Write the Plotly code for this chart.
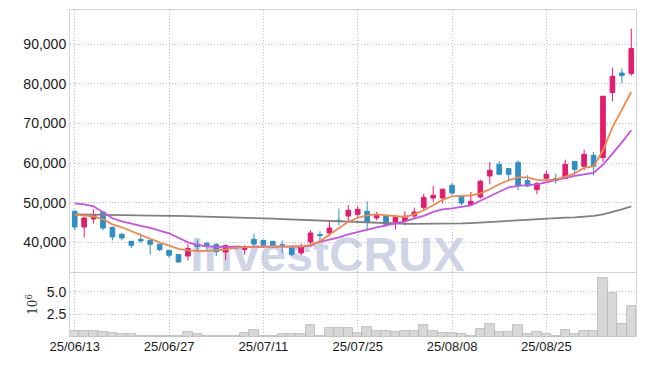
import plotly.graph_objects as go
from plotly.subplots import make_subplots

dates = [
    "2025-06-13", "2025-06-16", "2025-06-17", "2025-06-18", "2025-06-19", "2025-06-20",
    "2025-06-23", "2025-06-24", "2025-06-25", "2025-06-26", "2025-06-27",
    "2025-06-30", "2025-07-01", "2025-07-02", "2025-07-03", "2025-07-04",
    "2025-07-07", "2025-07-08", "2025-07-09", "2025-07-10", "2025-07-11",
    "2025-07-14", "2025-07-15", "2025-07-16", "2025-07-17", "2025-07-18",
    "2025-07-21", "2025-07-22", "2025-07-23", "2025-07-24", "2025-07-25",
    "2025-07-28", "2025-07-29", "2025-07-30", "2025-07-31", "2025-08-01",
    "2025-08-04", "2025-08-05", "2025-08-06", "2025-08-07", "2025-08-08",
    "2025-08-11", "2025-08-12", "2025-08-13", "2025-08-14",
    "2025-08-18", "2025-08-19", "2025-08-20", "2025-08-21", "2025-08-22",
    "2025-08-25", "2025-08-26", "2025-08-27", "2025-08-28", "2025-08-29",
    "2025-09-01", "2025-09-02", "2025-09-03", "2025-09-04", "2025-09-05",
]

opens = [47830, 43860, 45880, 47650, 43790, 42020, 40250, 40760, 40500, 39500,
         37980, 36890, 36540, 39420, 39750, 39420, 37550, 38830, 38160, 40760,
         40500, 40250, 39400, 38560, 37300, 40080, 41950, 42350, 45550, 46640,
         47070, 47830, 46140, 46640, 45130, 45380, 46640, 48760, 51190, 51190,
         54390, 51610, 49520, 51440, 56740, 59700, 58610, 60120, 55580, 53300,
         56160, 56080, 56080, 60450, 59190, 61970, 61390, 77800, 82750, 82600]
highs = [48080, 46390, 48330, 47830, 43900, 42350, 40300, 42200, 40550, 39700,
         38050, 36950, 39500, 40760, 40080, 39800, 39420, 38900, 39240, 42200,
         40550, 40300, 40500, 38600, 39670, 43030, 42780, 45550, 48510, 49340,
         49090, 50350, 47650, 46800, 46820, 47830, 48760, 52300, 54220, 53630,
         54970, 51700, 52700, 55830, 60280, 60530, 58700, 60700, 56920, 55230,
         58180, 57350, 60880, 60500, 63410, 62800, 77000, 84110, 83860, 93960]
lows = [43030, 41190, 44720, 43030, 40500, 40500, 38560, 39920, 36890, 37730,
        36040, 34900, 35450, 37730, 37730, 36540, 35450, 38300, 36890, 38830,
        38560, 38830, 37400, 36540, 36720, 39240, 40500, 41520, 44290, 45130,
        45980, 43030, 45550, 44040, 43200, 44290, 45980, 48080, 50180, 49770,
        51870, 49340, 49340, 51030, 54640, 56920, 55480, 53130, 53960, 52120,
        55650, 54820, 56000, 57350, 58180, 56920, 60280, 75600, 80220, 82000]
closes = [43860, 46140, 46990, 43610, 41340, 41090, 39240, 40330, 39500, 38160,
          36720, 35030, 38410, 38910, 39240, 37650, 39170, 38410, 38560, 39570,
          39240, 39240, 39170, 36970, 38830, 42350, 41700, 43610, 45300, 48080,
          48330, 45050, 47070, 44540, 46240, 46570, 47650, 51290, 51870, 53380,
          52450, 49920, 50350, 55400, 58180, 57170, 57170, 54390, 54220, 54820,
          57170, 55650, 59700, 58430, 62220, 59190, 76870, 81920, 82090, 88910]

ma5 = [46940, 46820, 46560, 45810, 44540, 43790, 42780, 41770, 40880, 40000,
       39120, 38360, 37980, 37800, 37850, 37980, 38230, 38610, 38810, 38910,
       38990, 38990, 38860, 38860, 38990, 39370, 40300, 41900, 43500, 45200,
       46200, 46820, 47070, 46820, 46570, 46390, 47070, 48080, 49340, 50730,
       51620, 51740, 51870, 52370, 53380, 54650, 55660, 56410, 56410, 55780,
       55660, 55910, 56540, 57420, 58810, 59190, 63230, 69040, 73330, 77950]
ma20 = [49850, 49600, 49090, 47580, 46060, 45300, 44670, 44170, 43660, 43030,
        42270, 41140, 40000, 39370, 38990, 38860, 38810, 38810, 38810, 38860,
        38910, 38910, 38910, 38910, 38910, 39120, 40130, 40630, 41260, 42020,
        42650, 43280, 43790, 44290, 44800, 45300, 46060, 46690, 47700, 48330,
        48590, 48960, 49340, 50480, 51620, 52880, 53890, 54270, 54390, 54650,
        55150, 55780, 56290, 56790, 57170, 57500, 59570, 62350, 65250, 68280]
ma60 = [47070, 47050, 47020, 47000, 46970, 46940, 46900, 46850, 46800, 46750,
        46690, 46650, 46600, 46550, 46500, 46440, 46380, 46300, 46220, 46140,
        46060, 45960, 45860, 45760, 45650, 45550, 45450, 45350, 45250, 45150,
        45050, 44980, 44900, 44820, 44750, 44680, 44650, 44640, 44650, 44660,
        44670, 44760, 44860, 45000, 45200, 45430, 45560, 45690, 45810, 45930,
        46060, 46150, 46230, 46310, 46450, 46690, 47050, 47580, 48300, 49090]

volumes = [630000, 630000, 630000, 600000, 490000, 300000, 300000, 150000, 150000, 150000,
           150000, 150000, 520000, 370000, 150000, 150000, 150000, 80000, 490000, 820000,
           80000, 80000, 370000, 300000, 300000, 1300000, 150000, 1040000, 1040000, 1040000,
           490000, 1110000, 630000, 630000, 560000, 630000, 630000, 1300000, 630000, 450000,
           450000, 300000, 150000, 860000, 1410000, 520000, 520000, 1300000, 300000, 520000,
           300000, 150000, 740000, 300000, 710000, 710000, 6490000, 4820000, 1490000, 3410000]

tick_dates = ["2025-06-13", "2025-06-27", "2025-07-11", "2025-07-25", "2025-08-08", "2025-08-25"]
tick_labels = ["25/06/13", "25/06/27", "25/07/11", "25/07/25", "25/08/08", "25/08/25"]
price_ticks = [40000, 50000, 60000, 70000, 80000, 90000]
vol_ticks = [2.5, 5.0]
vol_tick_labels = ["2.5", "5.0"]

UP = "#e31c6e"
DOWN = "#2d8fc5"
GRID = "#b9bdd2"
GRIDDASH = "1px,2px"
BORDER = "#d4d4dc"
FONT = "Liberation Sans, Arial, sans-serif"
TICKFONT = dict(family=FONT, size=14, color="#1a1a1a")

fig = make_subplots(rows=2, cols=1, shared_xaxes=True, vertical_spacing=0,
                    row_heights=[262, 65])

fig.add_trace(go.Candlestick(
    x=dates, open=opens, high=highs, low=lows, close=closes,
    increasing=dict(line=dict(color=UP, width=1), fillcolor=UP),
    decreasing=dict(line=dict(color=DOWN, width=1), fillcolor=DOWN),
    whiskerwidth=0, showlegend=False, hoverinfo="skip"), row=1, col=1)

fig.add_trace(go.Scatter(x=dates, y=ma60, mode="lines",
                         line=dict(color="#808080", width=1.8),
                         showlegend=False, hoverinfo="skip"), row=1, col=1)
fig.add_trace(go.Scatter(x=dates, y=ma20, mode="lines",
                         line=dict(color="#c652e6", width=1.8),
                         showlegend=False, hoverinfo="skip"), row=1, col=1)
fig.add_trace(go.Scatter(x=dates, y=ma5, mode="lines",
                         line=dict(color="#ef8a4c", width=1.8),
                         showlegend=False, hoverinfo="skip"), row=1, col=1)

fig.add_trace(go.Bar(x=dates, y=[v / 1e6 for v in volumes],
                     marker=dict(color="#d8d8d8", line=dict(color="#b5b5b5", width=0.8)),
                     showlegend=False, hoverinfo="skip"), row=2, col=1)

# watermark
fig.add_shape(type="rect", xref="x", yref="y",
              x0=21.3, x1=32.3, y0=35500, y1=41000,
              line=dict(width=0), fillcolor="rgba(0,0,0,0)", layer="below",
              label=dict(text="InvestCRUX", textposition="middle center",
                         font=dict(family="Liberation Sans, Arial, sans-serif",
                                   size=48, weight="bold",
                                   color="rgba(175,183,216,0.6)")))

fig.update_layout(
    width=645, height=366,
    margin=dict(l=70, r=9, t=10, b=29),
    paper_bgcolor="white", plot_bgcolor="rgba(0,0,0,0)",
    bargap=0, showlegend=False,
    font=dict(family=FONT, size=14, color="#1a1a1a"),
)

xcommon = dict(type="category", range=[-0.5, len(dates) - 0.5],
               tickvals=tick_dates, showgrid=True, gridcolor=GRID, griddash=GRIDDASH,
               gridwidth=1, ticks="", zeroline=False, automargin=False)
fig.update_xaxes(**xcommon, showticklabels=False, showline=True, mirror=True,
                 linecolor=BORDER, linewidth=1, rangeslider=dict(visible=False),
                 row=1, col=1)
fig.update_xaxes(**xcommon, ticktext=tick_labels, showticklabels=True,
                 showline=False, tickfont=dict(family=FONT, size=13, color="#1a1a1a"),
                 row=2, col=1)

fig.update_yaxes(range=[32500, 98660], tickvals=price_ticks, tickformat=",",
                 showgrid=True, gridcolor=GRID, griddash=GRIDDASH, zeroline=False,
                 showline=True, mirror=True, linecolor=BORDER, linewidth=1,
                 ticks="", tickfont=TICKFONT, automargin=False,
                 row=1, col=1)
fig.update_yaxes(range=[0, 7.2], tickvals=vol_ticks, ticktext=vol_tick_labels,
                 showgrid=True, gridcolor=GRID, griddash=GRIDDASH, zeroline=False,
                 showline=True, mirror=True, linecolor=BORDER, linewidth=1,
                 ticks="", tickfont=TICKFONT, automargin=False,
                 title=dict(text="10<sup>6</sup>",
                            font=dict(family="DejaVu Serif, serif", size=12, color="#333333"),
                            standoff=6),
                 row=2, col=1)

fig.write_html("out.html", config={"displayModeBar": False},
               post_script="document.body.style.margin='0';")
